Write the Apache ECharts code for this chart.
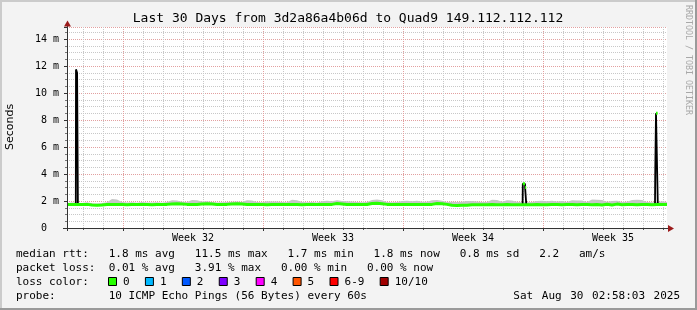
<!DOCTYPE html>
<html><head><meta charset="utf-8">
<script src="https://cdn.jsdelivr.net/npm/echarts@6/dist/echarts.min.js"></script>
<style>html,body{margin:0;padding:0;background:#f3f3f3}#c{width:697px;height:310px}</style>
</head><body><div id="c"></div>
<script>
// ---------- data ----------
const titleText = 'Last 30 Days from 3d2a86a4b06d to Quad9 149.112.112.112';
const yMax = 14.89;                       // ms, top of value range
const weekLines = [2.8, 9.8, 16.8, 23.8]; // days since start (Monday 00:00)
const weekMid = [6.3, 13.3, 20.3, 27.3];
const weekLabels = ['Week 32', 'Week 33', 'Week 34', 'Week 35'];
const dayLines = [0.8,1.8,3.8,4.8,5.8,6.8,7.8,8.8,10.8,11.8,12.8,13.8,14.8,15.8,17.8,18.8,19.8,20.8,21.8,22.8,24.8,25.8,26.8,27.8,28.8,29.8];
const sampleStep = 0.25; // days between samples below
const medianMs = [
 1.74,1.74,1.74,1.74,1.75, 1.70,1.68,1.70,
 1.74,1.75,1.74,1.74,1.73,1.74,1.75,1.74,1.74,1.73,1.74,1.74,1.75,
 1.78,1.80,1.78, 1.75,1.74,1.74, 1.78,1.79,1.77, 1.74,1.74,1.75, 1.78,1.79,1.77,
 1.74,1.74,1.75,1.74,1.73,1.74,1.74,1.75,1.74,1.74,1.74,1.73,1.74,1.75,1.74,1.74,1.74,1.75,
 1.82,1.78, 1.74,1.74,1.75,1.74,1.74, 1.81,1.84,1.80,
 1.75,1.74,1.74,1.75,1.75,1.74,1.74,1.75,1.74,1.75, 1.82,1.80, 1.75, 1.68,1.67,1.68,1.69,
 1.73,1.72,1.73,1.73,1.74,1.73,1.73,1.74,1.73,1.73, 1.73,1.73,
 1.73,1.74,1.73,1.73,1.74,1.74,1.73,1.74,1.74,1.73,1.74,1.74,1.73,1.74,
 1.70,1.76,1.71,1.77,1.72, 1.74,1.74,1.73,1.74,1.74,1.73, 1.74,1.74,1.74
];
const smokeTopMs = [
 1.86,1.88,1.87,1.86,1.90, 1.84,1.82,1.86,
 1.90,2.15,2.12,1.92,1.88,1.90,1.87,1.92,1.89,1.88,1.90,1.87,1.92,
 2.05,2.04,1.95, 1.92,2.08,2.06, 1.96,1.98,1.92, 1.88,1.90,1.93, 1.95,1.97,1.92,
 2.05,2.03,1.92,1.90,1.98,1.97,1.96,1.92,1.90,2.10,2.06,1.92,1.90,1.93,1.88,1.98,2.02,1.99,
 2.05,2.00, 1.98,1.96,1.92,1.90,1.93, 2.08,2.12,2.06,
 1.92,1.90,1.92,2.00,2.02,1.98,2.01,1.95,1.94,2.06, 2.08,2.02, 1.93, 1.95,1.92,1.94,2.00,
 2.00,1.96,1.92,1.93,2.10,2.08,1.94,2.05,2.04,1.95, 1.90,1.90,
 1.92,2.00,2.02,1.98,2.01,1.97,2.00,1.92,2.05,2.04,2.03,1.93,2.12,2.10,
 2.08,1.95,2.00,2.01,1.93, 1.94,2.08,2.10,2.07,1.92,1.90, 1.90,1.98,1.92
];
// spikes: day positions and ms values
const spike1Day = [0.44, 0.45, 0.50, 0.505, 0.54, 0.545];
const spike1Ms  = [1.74, 11.75, 11.75, 11.5, 11.5, 1.74];
const spike2Day = [22.78, 22.79, 22.90, 22.905, 22.96, 22.965];
const spike2Ms  = [1.73, 3.27, 3.27, 3.0, 3.0, 1.73];
const spike3Day = [29.40, 29.41, 29.44, 29.45, 29.53, 29.54];
const spike3Ms  = [1.74, 3.8, 3.8, 8.5, 8.5, 1.74];
const lossLabels = ['0','1','2','3','4','5','6-9','10/10'];
const lossColors = ['#26ff00','#00b8ff','#0059ff','#7e00ff','#ff00ff','#ff5500','#ff0000','#a10000'];
const legendRows = [
 'median rtt:   1.8 ms avg   11.5 ms max   1.7 ms min   1.8 ms now   0.8 ms sd   2.2   am/s',
 'packet loss:  0.01 % avg   3.91 % max   0.00 % min   0.00 % now',
 'loss color:',
 'probe:        10 ICMP Echo Pings (56 Bytes) every 60s'
];
const dateText = 'Sat Aug 30 02:58:03 2025';

// ---------- build ----------
const mono = '"DejaVu Sans Mono", monospace';
const days = medianMs.map((_, i) => +(i * sampleStep).toFixed(2));
const medianPts = days.map((d, i) => [d, medianMs[i]]);
// stacked series: value first so the stack applies to the y dimension
const baseYX = days.map((d, i) => [medianMs[i], d]);
const bandYX = days.map((d, i) => [+(smokeTopMs[i] - medianMs[i]).toFixed(3), d]);
const pts = (ds, vs) => ds.map((d, i) => [d, vs[i]]);
const gap = d => [d, '-'];
const s1 = pts(spike1Day, spike1Ms), s2 = pts(spike2Day, spike2Ms), s3 = pts(spike3Day, spike3Ms);
const blackPts = [...s1, gap(1), ...s2, gap(23.5), ...s3];
const greenTops = [s2[1], s2[2], gap(22.902), s2[3], s2[4], gap(23.5), s3[1], s3[2], gap(29.445), s3[3], s3[4]];
const cyanTop = [s1[3], s1[4]];

const L = 67, R = 667, T = 27, B = 228;
const graphics = [];
graphics.push({type:'rect', shape:{x:0,y:0,width:697,height:2}, style:{fill:'#cbcbcb'}, silent:true});
graphics.push({type:'rect', shape:{x:0,y:0,width:2,height:310}, style:{fill:'#cbcbcb'}, silent:true});
graphics.push({type:'rect', shape:{x:695,y:0,width:2,height:310}, style:{fill:'#9a9a9a'}, silent:true});
graphics.push({type:'rect', shape:{x:0,y:308,width:697,height:2}, style:{fill:'#9a9a9a'}, silent:true});
graphics.push({type:'line', z:100, shape:{x1:63, y1:B+0.5, x2:670, y2:B+0.5}, style:{stroke:'#333', lineWidth:1}, silent:true});
graphics.push({type:'line', z:100, shape:{x1:L+0.5, y1:B+3, x2:L+0.5, y2:24}, style:{stroke:'#333', lineWidth:1}, silent:true});
graphics.push({type:'polygon', z:101, shape:{points:[[L+0.5,20.5],[L-3,26.5],[L+4,26.5]]}, style:{fill:'#9b1b1b'}, silent:true});
graphics.push({type:'polygon', z:101, shape:{points:[[674,B+0.5],[668,B-3],[668,B+4]]}, style:{fill:'#9b1b1b'}, silent:true});
const txt = (text, x, y, size, opts = {}) => ({
  type:'text', z:50, x, y, rotation: opts.rot || 0, silent:true,
  style:{text, fill: opts.fill || '#000', font: size + 'px ' + (opts.family || mono),
         align: opts.align || 'left', textAlign: opts.align || 'left',
         verticalAlign:'middle', textVerticalAlign:'middle'}
});
graphics.push(txt(titleText, 348, 19, 13, {align:'center'}));
graphics.push(txt('Seconds', 10, 127, 11, {align:'center', rot: Math.PI/2, family:'"DejaVu Sans", sans-serif'}));
graphics.push(txt('RRDTOOL / TOBI OETIKER', 688, 60, 8.3, {align:'center', rot: -Math.PI/2, fill:'#a8a8a8'}));
const rowY = [254, 268, 282, 296];
const cw = 6.62;
legendRows.forEach((r, i) => graphics.push(txt(r, 16, rowY[i], 11)));
// date: justified words
let dx = 513.3;
dateText.split(' ').forEach(w => { graphics.push(txt(w, dx, rowY[3], 11)); dx += w.length * cw + 8.6; });
// loss color boxes
let bx = 108;
lossLabels.forEach((lab, i) => {
  graphics.push({type:'rect', z:50, shape:{x:bx+0.5, y:277.5, width:8, height:8}, style:{fill:lossColors[i], stroke:'#000', lineWidth:1}, silent:true});
  graphics.push(txt(lab, bx + 15, rowY[2], 11));
  bx = bx + 15 + lab.length * cw + 15.3;
});

const option = {
  animation: false,
  backgroundColor: '#f3f3f3',
  grid: {left: L, right: 697 - R, top: T, bottom: 310 - B, show: true, backgroundColor: '#ffffff', borderWidth: 0},
  xAxis: [
    { type:'value', min:0, max:30, gridIndex:0, position:'bottom', axisLine:{show:false},
      axisTick:{show:true, customValues: dayLines, length:2, lineStyle:{color:'#555'}},
      axisLabel:{show:false},
      splitLine:{show:true, lineStyle:{color:'#c8c8c8', type:'dotted', width:1}} },
    { type:'value', min:0, max:30, gridIndex:0, position:'bottom', axisLine:{show:false},
      axisTick:{show:true, customValues: weekLines, length:3, lineStyle:{color:'#333'}},
      axisLabel:{show:true, customValues: weekMid, margin:5, color:'#000', fontFamily: mono, fontSize:10,
                 formatter: v => weekLabels[weekMid.indexOf(v)] || ''},
      splitLine:{show:true, lineStyle:{color:'#e2a0a0', type:'dotted', width:1}} }
  ],
  yAxis: {
    type:'value', min:0, max:yMax, interval:2, axisLine:{show:false},
    axisTick:{show:true, length:3, lineStyle:{color:'#333'}},
    minorTick:{show:true, splitNumber:4, length:2, lineStyle:{color:'#777'}},
    axisLabel:{margin:8, color:'#000', fontFamily: mono, fontSize:10, showMaxLabel:false,
      formatter: v => v === 0 ? '0  ' : (Math.abs(v % 2) < 1e-9 && v <= 14 ? v + ' m' : '')},
    splitLine:{show:true, lineStyle:{color:'#e2a0a0', type:'dotted', width:1}},
    minorSplitLine:{show:true, lineStyle:{color:'#c8c8c8', type:'dotted', width:1}}
  },
  series: [
    { type:'line', data: baseYX, encode:{x:1, y:0}, stack:'smoke', symbol:'none', silent:true, lineStyle:{opacity:0} },
    { type:'line', data: bandYX, encode:{x:1, y:0}, stack:'smoke', symbol:'none', silent:true,
      lineStyle:{opacity:0}, areaStyle:{color:'#c6c6c6', opacity:1} },
    { type:'line', data: blackPts, symbol:'none', silent:true, connectNulls:false, lineStyle:{color:'#000', width:1.8} },
    { type:'line', data: medianPts, symbol:'none', silent:true, lineStyle:{color:'#26ff00', width:3} },
    { type:'line', data: greenTops, symbol:'none', silent:true, connectNulls:false, lineStyle:{color:'#26ff00', width:3} },
    { type:'line', data: cyanTop, symbol:'none', silent:true, lineStyle:{color:'#00b8ff', width:2} }
  ],
  graphic: graphics
};
const chart = echarts.init(document.getElementById('c'), null, {renderer:'canvas'});
chart.setOption(option);
</script></body></html>
